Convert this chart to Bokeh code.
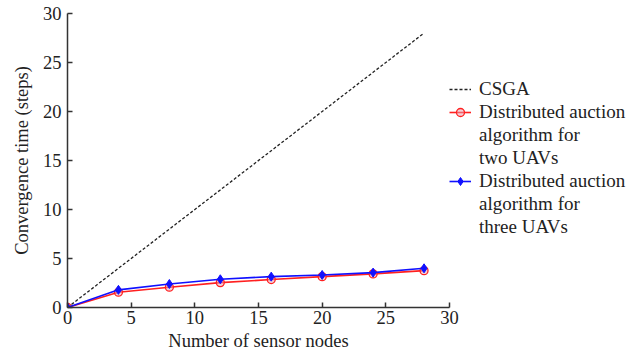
from bokeh.plotting import figure
from bokeh.models import Range1d, Legend, LegendItem
from bokeh.embed import file_html
from bokeh.resources import INLINE

nodes = [0, 4, 8, 12, 16, 20, 24, 28]
csga = [0, 4, 8, 12, 16, 20, 24, 28]
two_uavs = [0, 1.56, 2.07, 2.54, 2.85, 3.15, 3.43, 3.76]
three_uavs = [0, 1.8, 2.4, 2.88, 3.15, 3.32, 3.56, 4.0]

x_ticks = [0, 5, 10, 15, 20, 25, 30]
y_ticks = [0, 5, 10, 15, 20, 25, 30]

legend_labels = ["CSGA",
                 ["Distributed auction", "algorithm for", "two UAVs"],
                 ["Distributed auction", "algorithm for", "three UAVs"]]

FONT = "Liberation Serif"

p = figure(frame_width=382, frame_height=294, output_backend="svg", toolbar_location=None,
           x_range=Range1d(0, 30), y_range=Range1d(0, 30),
           min_border_left=67, min_border_right=0, min_border_top=13, min_border_bottom=51)
p.outline_line_color = None
p.grid.visible = False
p.background_fill_color = "white"

for ax in (p.xaxis[0], p.yaxis[0]):
    ax.major_tick_in = 5
    ax.major_tick_out = 0
    ax.minor_tick_line_color = None
    ax.axis_line_color = "#333333"
    ax.axis_line_width = 1.5
    ax.major_tick_line_color = "#333333"
    ax.major_tick_line_width = 1.5
    ax.major_label_text_font = FONT
    ax.major_label_text_font_size = "18.5px"
    ax.major_label_text_color = "#222222"
    ax.axis_label_text_font = FONT
    ax.axis_label_text_font_size = "18.5px"
    ax.axis_label_text_font_style = "normal"
    ax.axis_label_text_color = "#222222"

p.xaxis.ticker = x_ticks
p.yaxis.ticker = y_ticks
p.xaxis.axis_label = "Number of sensor nodes"
p.yaxis.axis_label = "Convergence time (steps)"
p.xaxis.major_label_standoff = 3
p.yaxis.major_label_standoff = 6
p.xaxis.axis_label_standoff = 4
p.yaxis.axis_label_standoff = 8

r1 = p.line(nodes, csga, line_color="#222222", line_dash="3 2", line_width=1.3)

r2l = p.line(nodes, two_uavs, line_color="#ff2020", line_width=1.6)
r2m = p.scatter(nodes, two_uavs, marker="circle", size=8, line_color="#ff2020",
                fill_color="#e8a0b0", fill_alpha=0.5, line_width=1.3)

r3l = p.line(nodes, three_uavs, line_color="#1010ff", line_width=1.6)
r3m = p.scatter(nodes, three_uavs, marker="diamond", size=9, line_color="#1010ff",
                fill_color="#1010ff")

items = [LegendItem(label=legend_labels[0], renderers=[r1])]
for lab, rs in ((legend_labels[1], [r2l, r2m]), (legend_labels[2], [r3l, r3m])):
    items.append(LegendItem(label=lab[0], renderers=rs))
    for extra in lab[1:]:
        items.append(LegendItem(label=extra, renderers=[]))

legend = Legend(items=items, location=(0, 69))
legend.background_fill_alpha = 0
legend.border_line_color = None
legend.label_text_font = FONT
legend.label_text_font_size = "19px"
legend.label_text_color = "#222222"
legend.label_height = 20
legend.glyph_height = 20
legend.glyph_width = 22
legend.spacing = 1
legend.padding = 2
legend.label_standoff = 8
legend.margin = 0
p.add_layout(legend, "right")

open("out.html", "w").write(file_html(p, INLINE))
